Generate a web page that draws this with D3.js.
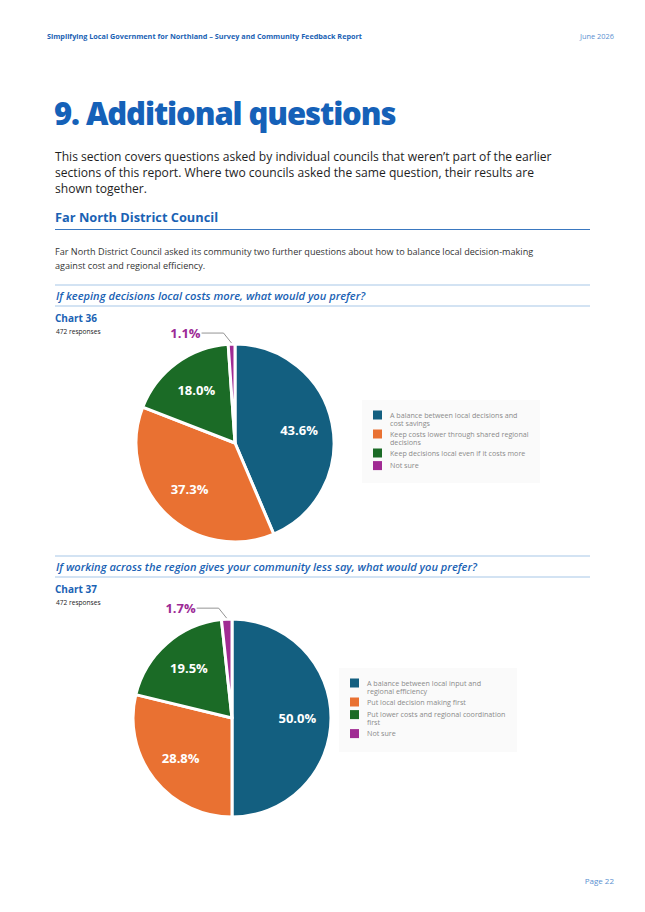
<!DOCTYPE html>
<html>
<head>
<meta charset="utf-8">
<script src="https://cdn.jsdelivr.net/npm/d3@7"></script>
<style>
  body { margin: 0; background: #fff; }
  svg { display: block; font-family: "Open Sans", sans-serif; }
</style>
</head>
<body>
<div id="page"></div>
<script>
// chart data
var chart36Labels = ["A balance between local decisions and cost savings",
                     "Keep costs lower through shared regional decisions",
                     "Keep decisions local even if it costs more",
                     "Not sure"];
var chart36Values = [43.6, 37.3, 18.0, 1.1];

var chart37Labels = ["A balance between local input and regional efficiency",
                     "Put local decision making first",
                     "Put lower costs and regional coordination first",
                     "Not sure"];
var chart37Values = [50.0, 28.8, 19.5, 1.7];

var sliceColors = ["#135f80", "#e97132", "#1b6b26", "#a02b93"];

var width = 645, height = 912;
var blue = "#1a62b4";

var svg = d3.select("#page").append("svg")
  .attr("width", width)
  .attr("height", height);

// page header
svg.append("text").attr("x", 47).attr("y", 39)
  .style("font-size", "7.25px").style("font-weight", 700).style("fill", blue)
  .text("Simplifying Local Government for Northland – Survey and Community Feedback Report");
svg.append("text").attr("x", 614).attr("y", 39).attr("text-anchor", "end")
  .style("font-size", "7.4px").style("fill", "#5a8fd0")
  .text("June 2026");

svg.append("text").attr("x", 54).attr("y", 125)
  .style("font-size", "31px").style("font-weight", 800).style("fill", "#1561b8")
  .style("letter-spacing", "-1.1px")
  .text("9. Additional questions");

var intro = ["This section covers questions asked by individual councils that weren’t part of the earlier",
             "sections of this report. Where two councils asked the same question, their results are",
             "shown together."];
svg.selectAll("text.intro").data(intro).enter().append("text")
  .attr("class", "intro")
  .attr("x", 55).attr("y", (d, i) => 161 + i * 16)
  .style("font-size", "12.1px").style("fill", "#1e1e1e")
  .text(d => d);

svg.append("text").attr("x", 55).attr("y", 222)
  .style("font-size", "12.8px").style("font-weight", 700).style("fill", blue)
  .text("Far North District Council");
svg.append("line").attr("x1", 55).attr("x2", 590).attr("y1", 229.5).attr("y2", 229.5)
  .style("stroke", "#3a78c0").style("stroke-width", 1);

var body = ["Far North District Council asked its community two further questions about how to balance local decision-making",
            "against cost and regional efficiency."];
svg.selectAll("text.body").data(body).enter().append("text")
  .attr("class", "body")
  .attr("x", 55).attr("y", (d, i) => 255 + i * 14)
  .style("font-size", "9.1px").style("fill", "#333")
  .text(d => d);

svg.append("text").attr("x", 614).attr("y", 884).attr("text-anchor", "end")
  .style("font-size", "8px").style("fill", "#5a8fd0")
  .text("Page 22");

function questionBlock(top, question, chartName) {
  svg.append("line").attr("x1", 55).attr("x2", 590).attr("y1", top).attr("y2", top)
    .style("stroke", "#a8c7e8").style("stroke-width", 1.2);
  svg.append("text").attr("x", 56).attr("y", top + 15)
    .style("font-size", "11.1px").style("font-weight", 600).style("font-style", "italic")
    .style("fill", blue).text(question);
  svg.append("line").attr("x1", 55).attr("x2", 590).attr("y1", top + 21).attr("y2", top + 21)
    .style("stroke", "#a8c7e8").style("stroke-width", 1.2);
  svg.append("text").attr("x", 55).attr("y", top + 37)
    .style("font-size", "10px").style("font-weight", 700).style("fill", blue)
    .text(chartName);
  svg.append("text").attr("x", 56).attr("y", top + 49)
    .style("font-size", "6.6px").style("fill", "#222")
    .text("472 responses");
}

function wrap(sel, maxW, lineH) {
  sel.each(function() {
    var t = d3.select(this);
    var words = t.text().split(" ");
    var x = +t.attr("x"), y = +t.attr("y");
    t.text(null);
    var line = [], ts = t.append("tspan").attr("x", x).attr("y", y), n = 0;
    words.forEach(function(w) {
      line.push(w);
      ts.text(line.join(" "));
      if (ts.node().getComputedTextLength() > maxW && line.length > 1) {
        line.pop();
        ts.text(line.join(" "));
        line = [w];
        n++;
        ts = t.append("tspan").attr("x", x).attr("y", y + n * lineH).text(w);
      }
    });
    this._lines = n + 1;
  });
}

function pieChart(cx, cy, radius, labels, values, legendX, legendY, legendW, legendH) {
  var pie = d3.pie().value(d => d).sort(null);
  var arc = d3.arc().innerRadius(0).outerRadius(radius);
  var labelArc = d3.arc().innerRadius(radius * 0.66).outerRadius(radius * 0.66);
  var edgeArc = d3.arc().innerRadius(radius + 1).outerRadius(radius + 1);
  var arcs = pie(values);

  var g = svg.append("g").attr("transform", "translate(" + cx + "," + cy + ")");
  g.selectAll("path").data(arcs).enter().append("path")
    .attr("d", arc)
    .attr("fill", (d, i) => sliceColors[i])
    .style("stroke", "white")
    .style("stroke-width", 3)
    .style("stroke-linejoin", "round");

  // labels inside the bigger slices
  g.selectAll("text.inside").data(arcs.filter(d => d.data >= 5)).enter().append("text")
    .attr("class", "inside")
    .attr("transform", d => "translate(" + labelArc.centroid(d) + ")")
    .attr("text-anchor", "middle").attr("dy", "0.35em")
    .style("font-size", "13px").style("font-weight", 700).style("fill", "white")
    .text(d => d.data.toFixed(1) + "%");

  // small slice gets a leader line
  arcs.filter(d => d.data < 5).forEach(function(d) {
    var p = edgeArc.centroid(d);
    var elbow = [p[0] - 8, p[1] - 10];
    var start = [elbow[0] - 22, elbow[1]];
    g.append("polyline")
      .attr("points", [start, elbow, p].map(q => q.join(",")).join(" "))
      .style("fill", "none").style("stroke", "#777").style("stroke-width", 0.8);
    g.append("text")
      .attr("x", start[0] - 1).attr("y", start[1]).attr("dy", "0.35em")
      .attr("text-anchor", "end")
      .style("font-size", "13px").style("font-weight", 700).style("fill", "#9c2a96")
      .text(d.data.toFixed(1) + "%");
  });

  // legend
  svg.append("rect").attr("x", legendX).attr("y", legendY)
    .attr("width", legendW).attr("height", legendH).attr("fill", "#fafafa");
  var yy = legendY + 15;
  labels.forEach(function(lab, i) {
    var t = svg.append("text").attr("x", legendX + 28).attr("y", yy + 2.6)
      .style("font-size", "7.15px").style("fill", "#8a8a8a")
      .text(lab);
    wrap(t, 142, 8.2);
    svg.append("rect").attr("x", legendX + 11).attr("y", yy - 4.5)
      .attr("width", 9).attr("height", 9).attr("fill", sliceColors[i]);
    var n = t.node()._lines;
    yy += Math.max(n * 8.2 + 2.6, 12.6);
  });
}

questionBlock(285, "If keeping decisions local costs more, what would you prefer?", "Chart 36");
pieChart(235, 443, 99, chart36Labels, chart36Values, 362, 400, 178, 83);

questionBlock(556, "If working across the region gives your community less say, what would you prefer?", "Chart 37");
pieChart(232, 718, 99, chart37Labels, chart37Values, 339, 668, 178, 84);
</script>
</body>
</html>
